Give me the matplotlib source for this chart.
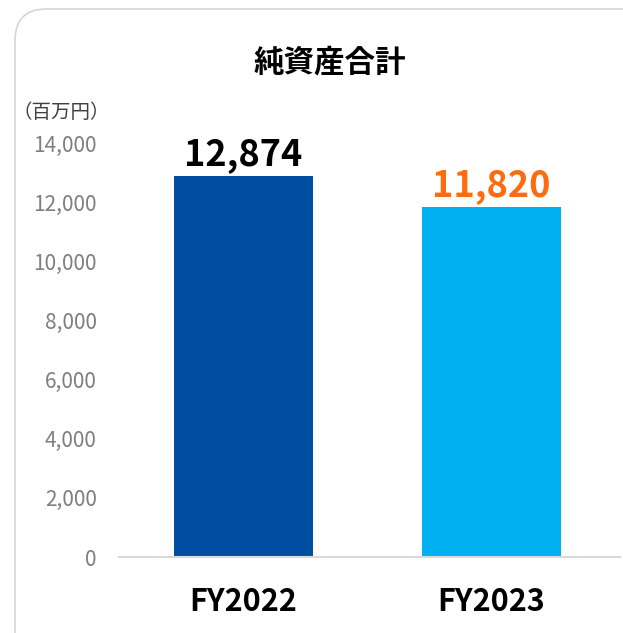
import matplotlib
matplotlib.use("Agg")
from matplotlib import pyplot as plt
from matplotlib.patches import FancyBboxPatch

plt.rcParams['font.family'] = ['Noto Sans CJK JP', 'DejaVu Sans']

categories = ["FY2022", "FY2023"]
values = [12874, 11820]
bar_colors = ["#004EA2", "#00B0F0"]
label_colors = ["#000000", "#FF6B0F"]
yticks = [0, 2000, 4000, 6000, 8000, 10000, 12000, 14000]

W, H = 623, 633
fig = plt.figure(figsize=(W / 100, H / 100), dpi=100)

# rounded card border (runs off right and bottom edges)
card = FancyBboxPatch((15 / W, -40 / H), 700 / W, (H - 9 + 40) / H,
                      boxstyle="round,pad=0,rounding_size=0.05",
                      transform=fig.transFigure, facecolor="white",
                      edgecolor="#d6d6d6", linewidth=1.2, zorder=-10)
fig.patches.append(card)

# axes: baseline y=556, 14000 at y=143, left edge x=119
ax = fig.add_axes([119 / W, (H - 557) / H, (620 - 119) / W, (557 - 143) / H])
ax.set_zorder(5)
ax.set_facecolor("none")
x = list(range(len(categories)))
ax.bar(x, values, width=0.56, color=bar_colors, zorder=2)
ax.set_xlim(-0.502, 1.518)
ax.set_ylim(0, 14000)

for xi, v, c in zip(x, values, label_colors):
    ax.text(xi, v + 100, f"{v:,}", ha="center", va="bottom",
            fontsize=26, fontweight="bold", color=c)

ax.set_yticks(yticks)
ax.set_yticklabels([f"{t:,}" for t in yticks], fontsize=15, color="#7f7f7f")
ax.set_xticks(x)
ax.set_xticklabels(categories, fontsize=22, fontweight="bold", color="black")
ax.tick_params(axis="y", length=0, pad=16)
ax.tick_params(axis="x", length=0, pad=21)
for side in ["top", "right", "left"]:
    ax.spines[side].set_visible(False)
ax.spines["bottom"].set_color("#d9d9d9")
ax.spines["bottom"].set_linewidth(1.5)

fig.text(330 / W, 1 - 62 / H, "純資産合計", ha="center", va="center",
         fontsize=22, fontweight="bold", color="black", zorder=6)
fig.text(12 / W, 1 - 113 / H, "（百万円）", ha="left", va="center",
         fontsize=14, color="#404040", zorder=6)

fig.savefig("out.png", dpi=100)
